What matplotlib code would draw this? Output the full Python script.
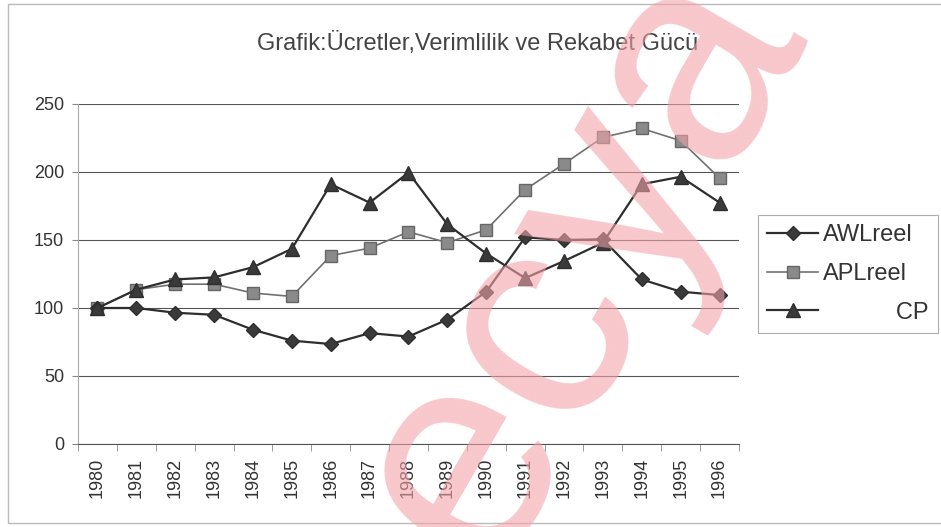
import matplotlib
matplotlib.use("Agg")
import matplotlib.pyplot as plt
from matplotlib.patches import Rectangle

plt.rcParams['font.family'] = ['Liberation Sans', 'DejaVu Sans']

# veriler
years = [str(y) for y in range(1980, 1997)]
awl_reel = [100, 100, 96.5, 95, 84, 76, 73.5, 81.5, 79, 91.5, 112, 152, 150, 150.5, 121, 112, 109.5]
apl_reel = [100, 113.5, 117.5, 117.5, 111, 108.5, 138.5, 144, 156, 148, 157.5, 187, 206, 225.5, 232, 223, 195.5]
cp = [100, 113.5, 121, 122.5, 130, 143.5, 191, 177.5, 199.5, 161.5, 140, 122, 134.5, 148, 191, 196.5, 177.5]
series_names = ['AWLreel', 'APLreel', 'CP']
y_ticks = [0, 50, 100, 150, 200, 250]

fig = plt.figure(figsize=(9.41, 5.27), dpi=100)
ax = fig.add_axes([0.0829, 0.1575, 0.7024, 0.6452])

x = range(len(years))
ax.plot(x, awl_reel, color='#2e2e2e', lw=1.6, marker='D', ms=7.5,
        mfc='#3a3a3a', mec='#2e2e2e', label=series_names[0], zorder=4)
ax.plot(x, apl_reel, color='#707070', lw=1.2, marker='s', ms=8.5,
        mfc='#8a8a8a', mec='#666666', label=series_names[1], zorder=3)
ax.plot(x, cp, color='#2e2e2e', lw=1.6, marker='^', ms=9.5,
        mfc='#3a3a3a', mec='#2e2e2e', label=' ' * 11 + series_names[2], zorder=4)

ax.set_xlim(-0.5, len(years) - 0.5)
ax.set_ylim(0, 250)
ax.set_yticks(y_ticks)
ax.set_yticklabels([str(v) for v in y_ticks], fontsize=13, color='#333333')
ax.set_xticks(list(x))
ax.set_xticklabels(years, rotation=90, fontsize=13, color='#333333')
ax.tick_params(axis='x', length=0, pad=10)
ax.tick_params(axis='y', length=4, color='#888888', pad=6)
ax.set_xticks([i - 0.5 for i in range(len(years) + 1)], minor=True)
ax.tick_params(axis='x', which='minor', length=5, color='#888888')

ax.grid(axis='y', color='#555555', lw=0.8)
ax.set_axisbelow(True)
for s in ['top', 'right']:
    ax.spines[s].set_visible(False)
ax.spines['left'].set_color('#aaaaaa')
ax.spines['bottom'].set_color('#555555')

fig.text(0.508, 0.918, 'Grafik:Ücretler,Verimlilik ve Rekabet Gücü',
         ha='center', va='center', fontsize=17, color='#444444')

leg = fig.legend(loc='upper left', bbox_to_anchor=(0.8055, 0.592), fontsize=17,
                 frameon=True, fancybox=False, edgecolor='#999999',
                 handlelength=2.15, labelspacing=0.7, borderpad=0.4,
                 handletextpad=0.2, borderaxespad=0)
leg.get_frame().set_linewidth(0.8)
for t in leg.get_texts():
    t.set_color('#333333')

# tarama çerçevesi
fig.patches.append(Rectangle((8 / 941, 4 / 527), 1, 1 - 8 / 527, transform=fig.transFigure,
                             fill=False, ec='#bbbbbb', lw=1))

# filigran
fig.text(0.615, 0.5, 'ecya', rotation=60, ha='center', va='center', fontsize=215,
         color='#f2a2aa', alpha=0.6, zorder=10)

fig.savefig('out.png', dpi=100)
